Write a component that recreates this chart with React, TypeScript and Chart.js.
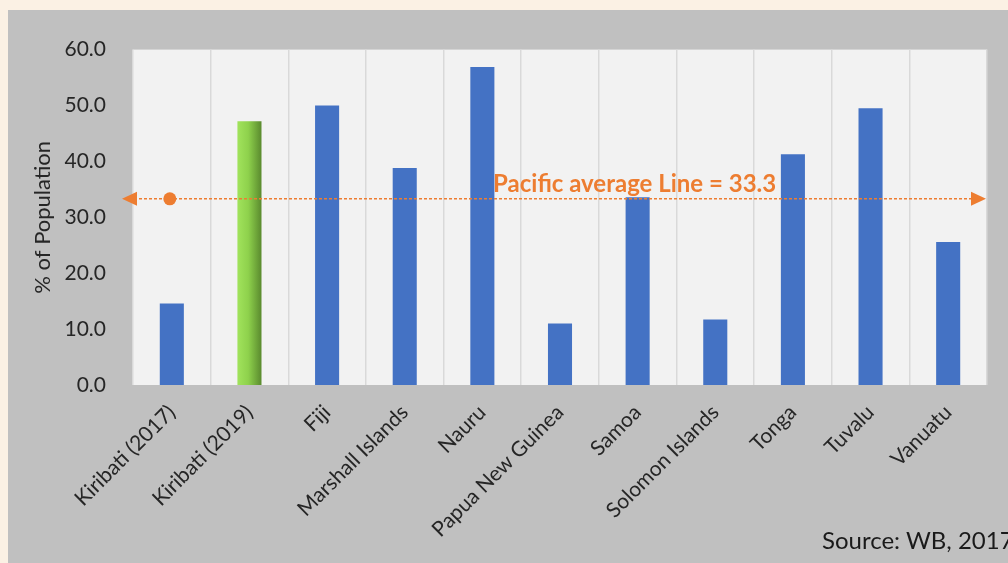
import React, { useEffect, useRef } from "react";
import { Chart, registerables } from "chart.js";

Chart.register(...registerables);

const categories = [
  "Kiribati (2017)",
  "Kiribati (2019)",
  "Fiji",
  "Marshall Islands",
  "Nauru",
  "Papua New Guinea",
  "Samoa",
  "Solomon Islands",
  "Tonga",
  "Tuvalu",
  "Vanuatu",
];
const populationShare = [14.6, 47.2, 50.0, 38.8, 56.9, 11.0, 33.6, 11.7, 41.3, 49.5, 25.6];
const pacificAverage = 33.3;
const averageLabel = "Pacific average Line = 33.3";
const yTicks = [0, 10, 20, 30, 40, 50, 60];
const yTitle = "% of Population";
const sourceText = "Source: WB, 2017";

const BLUE = "#4472c4";
const ORANGE = "#ed7d31";
const FONT = "Lato, 'Open Sans', sans-serif";

const areaBg = {
  id: "areaBg",
  beforeDraw(chart: any) {
    const { ctx, chartArea } = chart;
    ctx.save();
    ctx.fillStyle = "#f2f2f2";
    ctx.fillRect(chartArea.left, chartArea.top, chartArea.right - chartArea.left, chartArea.bottom - chartArea.top);
    ctx.restore();
  },
};

const avgPlugin = {
  id: "avgLine",
  afterDatasetsDraw(chart: any) {
    const { ctx, chartArea, scales } = chart;
    const xs = scales.x;
    const ys = scales.y;
    const yy = ys.getPixelForValue(pacificAverage);
    const x0 = chartArea.left - 11;
    const x1 = chartArea.right - 1;
    ctx.save();
    ctx.strokeStyle = ORANGE;
    ctx.fillStyle = ORANGE;
    ctx.lineWidth = 1.5;
    ctx.setLineDash([3, 2]);
    ctx.beginPath();
    ctx.moveTo(x0 + 12, yy);
    ctx.lineTo(x1 - 12, yy);
    ctx.stroke();
    ctx.setLineDash([]);
    // left arrow
    ctx.beginPath();
    ctx.moveTo(x0, yy);
    ctx.lineTo(x0 + 15, yy - 7);
    ctx.lineTo(x0 + 15, yy + 7);
    ctx.closePath();
    ctx.fill();
    // right arrow
    ctx.beginPath();
    ctx.moveTo(x1, yy);
    ctx.lineTo(x1 - 15, yy - 7);
    ctx.lineTo(x1 - 15, yy + 7);
    ctx.closePath();
    ctx.fill();
    // dot
    ctx.beginPath();
    ctx.arc(xs.getPixelForValue(0) - 2, yy, 6.5, 0, Math.PI * 2);
    ctx.fill();
    // label
    ctx.font = `bold 24px ${FONT}`;
    ctx.textAlign = "center";
    ctx.textBaseline = "alphabetic";
    ctx.fillText(averageLabel, xs.getPixelForValue(6) - 3, yy - 7);
    ctx.restore();
  },
};

export default function App() {
  const ref = useRef<HTMLCanvasElement>(null);

  useEffect(() => {
    if (!ref.current) return;
    const chart = new Chart(ref.current, {
      type: "bar",
      data: {
        labels: categories,
        datasets: [
          {
            data: populationShare,
            backgroundColor: (c: any) => {
              if (c.dataIndex !== 1) return BLUE;
              const ch = c.chart;
              const xs = ch.scales && ch.scales.x;
              if (!xs || !ch.chartArea) return "#8fd14f";
              const xc = xs.getPixelForValue(1);
              const g = ch.ctx.createLinearGradient(xc - 12, 0, xc + 12, 0);
              g.addColorStop(0, "#a1e35c");
              g.addColorStop(0.45, "#8ed14c");
              g.addColorStop(1, "#5a8a2e");
              return g;
            },
            borderWidth: 0,
            categoryPercentage: 1,
            barPercentage: 0.31,
          },
        ],
      },
      options: {
        animation: false,
        responsive: false,
        devicePixelRatio: 1,
        layout: { padding: { left: 0, top: 38, right: 21, bottom: 0 } },
        plugins: { legend: { display: false }, tooltip: { enabled: false } },
        scales: {
          x: {
            grid: { display: true, offset: true, color: "#d9d9d9", lineWidth: 1.5, drawTicks: false },
            border: { display: false },
            ticks: {
              color: "#262626",
              font: { family: FONT, size: 21 },
              minRotation: 45,
              maxRotation: 45,
              padding: 15,
              autoSkip: false,
            },
            afterFit: (s: any) => {
              s.height = 178;
            },
          },
          y: {
            min: 0,
            max: 60,
            grid: { display: false, drawTicks: false },
            border: { display: false },
            afterBuildTicks: (s: any) => {
              s.ticks = yTicks.map((v) => ({ value: v }));
            },
            ticks: {
              color: "#262626",
              font: { family: FONT, size: 21 },
              padding: 27,
              callback: (v: any) => Number(v).toFixed(1),
            },
            title: {
              display: true,
              text: yTitle,
              color: "#262626",
              font: { family: FONT, size: 22 },
              padding: { top: 22, bottom: 0 },
            },
            afterFit: (s: any) => {
              s.width = 125;
            },
          },
        },
      },
      plugins: [areaBg, avgPlugin],
    });
    return () => chart.destroy();
  }, []);

  return (
    <div
      style={{
        position: "absolute",
        left: 0,
        top: 0,
        width: 1008,
        height: 563,
        overflow: "hidden",
        background: "#fbf1e4",
      }}
    >
      <div
        style={{
          position: "absolute",
          left: 8,
          top: 10,
          width: 1000,
          height: 553,
          background: "#c0c0c0",
          overflow: "hidden",
        }}
      >
        <canvas ref={ref} width={1000} height={553} style={{ display: "block" }} />
        <div
          style={{
            position: "absolute",
            left: 814,
            top: 518,
            fontFamily: FONT,
            fontSize: 24,
            lineHeight: "24px",
            color: "#1a1a1a",
            whiteSpace: "nowrap",
          }}
        >
          {sourceText}
        </div>
      </div>
    </div>
  );
}
